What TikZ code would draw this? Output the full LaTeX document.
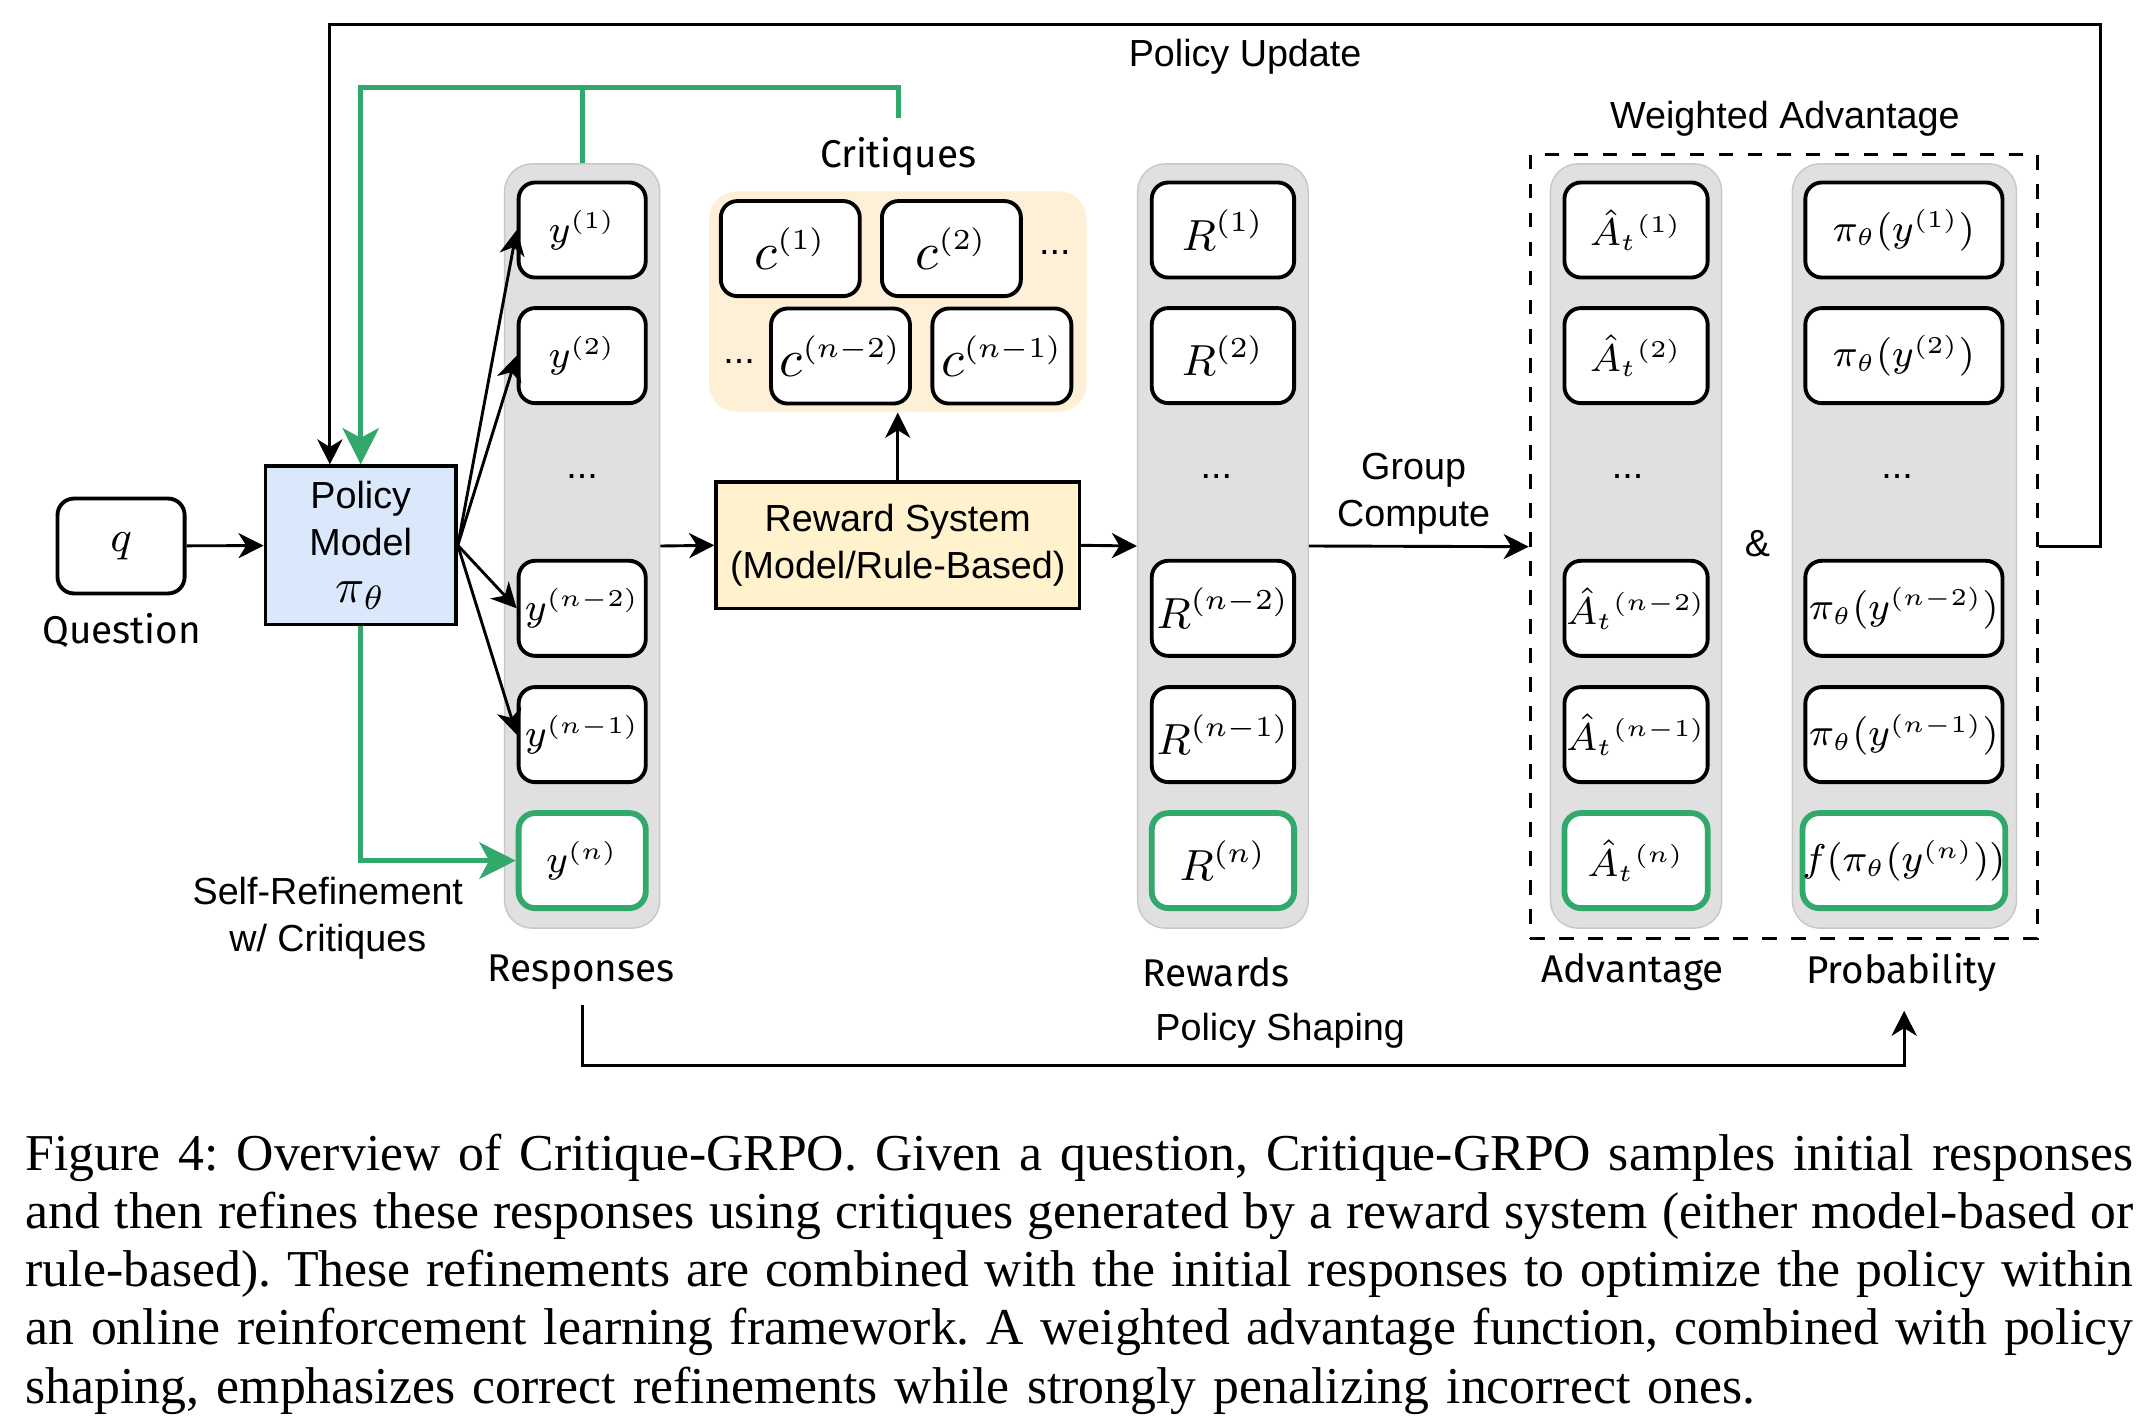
\documentclass[tikz,border=0pt]{standalone}
\usepackage{fontspec}
\setsansfont{Liberation Sans}
\newfontfamily\capfont{Liberation Serif}
\newfontfamily\handfont{Fira Sans}
\usepackage{tikz}
\usetikzlibrary{arrows.meta,positioning,calc}
\definecolor{refgreen}{HTML}{32A86C}
\definecolor{pmblue}{HTML}{DAE8FC}
\definecolor{rsyellow}{HTML}{FFF2CC}
\definecolor{critpanel}{HTML}{FDF0D6}
\definecolor{colgray}{HTML}{E0E0E0}
\definecolor{colline}{HTML}{C8C8C8}
\DeclareMathSizes{9}{9}{5.6}{4.5}
\DeclareMathSizes{8.2}{8.2}{5.2}{4.2}
\DeclareMathSizes{7.8}{7.8}{5}{4}
\DeclareMathSizes{10.5}{10.5}{6.5}{5.2}
\newcommand{\capline}[1]{\hbox to 153.2mm{\spaceskip=0.25em plus 1em minus 0.1em\relax #1}}

\begin{document}
\begin{tikzpicture}[x=0.1mm,y=-0.1mm,>={Stealth[length=5.2pt,width=5.2pt,inset=1.6pt]},
  txt/.style={font=\sffamily\fontsize{7.8}{9.7}\selectfont,align=center,inner sep=0pt},
  hand/.style={font=\handfont\fontsize{8}{10}\selectfont,inner sep=0pt},
  conn/.style={line width=0.6pt},
  gline/.style={draw=refgreen,line width=1.1pt},
  garrow/.style={gline,-{Stealth[length=7.5pt,width=7.5pt,inset=2pt]}},
  col/.style={fill=colgray,draw=colline,line width=0.3pt,rounded corners=2mm,minimum height=55.56mm,inner sep=0pt},
  cell/.style={draw,line width=0.8pt,rounded corners=1.2mm,fill=white,minimum height=6.91mm,inner sep=0pt,font=\fontsize{9}{11}\selectfont},
  gcell/.style={cell,draw=refgreen,line width=1.2pt},
  ycell/.style={minimum width=9.24mm,font=\fontsize{8.2}{10}\selectfont},
  rcell/.style={minimum width=10.35mm},
  acell/.style={minimum width=10.41mm,font=\fontsize{8.2}{10}\selectfont},
  pcell/.style={minimum width=14.33mm,font=\fontsize{7.8}{10}\selectfont},
  ccell/.style={cell,minimum width=10.1mm,font=\fontsize{10.5}{12}\selectfont},
  dots/.style={font=\sffamily\fontsize{7.8}{9}\selectfont,inner sep=0pt}]
\useasboundingbox (0,0) rectangle (1560,1035);

\node[cell,minimum width=9.24mm,minimum height=6.9mm] (q) at (88,396.9) {$q$};
\node[hand] (qlbl) at (88.5,458) {Question};
\node[txt,draw,line width=0.7pt,fill=pmblue,minimum width=13.87mm,minimum height=11.51mm] (pm) at (262.2,396.4) {Policy\\Model\\{\fontsize{10}{10}\selectfont$\pi_\theta$}};

\node[col,minimum width=11.28mm] (rcol) at (423.2,396.9) {};
\node[col,minimum width=12.4mm] (wcol) at (889,396.9) {};
\node[col,minimum width=12.45mm] (acol) at (1189.3,396.9) {};
\node[col,minimum width=16.29mm] (pcol) at (1384.4,396.9) {};

\node[cell,ycell] (y1) at (423.2,167.2) {$y^{(1)}$};
\node[cell,ycell] (y2) at (423.2,258.5) {$y^{(2)}$};
\node[dots] (ydots) at (423.2,346) {...};
\node[cell,ycell] (yn2) at (423.2,442.2) {$y^{(n-2)}$};
\node[cell,ycell] (yn1) at (423.2,534) {$y^{(n-1)}$};
\node[gcell,ycell] (yn) at (423.2,625.6) {$y^{(n)}$};
\node[hand] (resplbl) at (422.4,707) {Responses};

\node[cell,rcell] (r1) at (889,167.2) {$R^{(1)}$};
\node[cell,rcell] (r2) at (889,258.5) {$R^{(2)}$};
\node[dots] (rdots) at (884.2,346) {...};
\node[cell,rcell] (rn2) at (889,442.2) {$R^{(n-2)}$};
\node[cell,rcell] (rn1) at (889,534) {$R^{(n-1)}$};
\node[gcell,rcell] (rn) at (889,625.6) {$R^{(n)}$};
\node[hand] (rewlbl) at (884.2,707) {Rewards};

\node[cell,acell] (a1) at (1189.3,167.2) {$\hat{A}_t{}^{(1)}$};
\node[cell,acell] (a2) at (1189.3,258.5) {$\hat{A}_t{}^{(2)}$};
\node[dots] (adots) at (1183.2,346) {...};
\node[cell,acell] (an2) at (1189.3,442.2) {$\hat{A}_t{}^{(n-2)}$};
\node[cell,acell] (an1) at (1189.3,534) {$\hat{A}_t{}^{(n-1)}$};
\node[gcell,acell] (an) at (1189.3,625.6) {$\hat{A}_t{}^{(n)}$};
\node[hand] (advlbl) at (1186.8,707) {Advantage};

\node[cell,pcell] (p1) at (1384,167.2) {$\pi_\theta(y^{(1)})$};
\node[cell,pcell] (p2) at (1384,258.5) {$\pi_\theta(y^{(2)})$};
\node[dots] (pdots) at (1379.1,346) {...};
\node[cell,pcell] (pn2) at (1384,442.2) {$\pi_\theta(y^{(n-2)})$};
\node[cell,pcell] (pn1) at (1384,534) {$\pi_\theta(y^{(n-1)})$};
\node[gcell,pcell] (pn) at (1384,625.6) {$f(\pi_\theta(y^{(n)}))$};
\node[hand] (problbl) at (1382.2,707) {Probability};

\node[txt] (amp) at (1277.6,395.4) {\&};
\node[draw,dashed,line width=0.6pt,minimum width=36.89mm,minimum height=56.96mm,inner sep=0pt] (wbox) at (1296.8,397.4) {};
\node[txt] (wlbl) at (1297.5,86.1) {Weighted Advantage};

\node[fill=critpanel,rounded corners=2mm,minimum width=27.45mm,minimum height=16.02mm,inner sep=0pt] (cpanel) at (652.6,219.2) {};
\node[hand] (critlbl) at (653,114.1) {Critiques};
\node[ccell] (c1) at (574.5,180.7) {$c^{(1)}$};
\node[ccell] (c2) at (691.6,180.7) {$c^{(2)}$};
\node[dots] (cdots1) at (766.8,183.5) {...};
\node[dots] (cdots2) at (537.2,262.5) {...};
\node[ccell] (cn2) at (611,258.8) {$c^{(n-2)}$};
\node[ccell] (cn1) at (728.3,258.8) {$c^{(n-1)}$};

\node[txt,draw,line width=0.7pt,fill=rsyellow,minimum width=26.43mm,minimum height=9.21mm] (rs) at (652.6,396.4) {Reward System\\(Model/Rule-Based)};

\node[txt] (gclbl) at (1027.6,358.6) {Group\\Compute};
\node[txt] (pulbl) at (905.1,41) {Policy Update};
\node[txt] (pslbl) at (930.6,749.2) {Policy Shaping};
\node[txt] (srlbl) at (238.3,667.7) {Self-Refinement\\w/ Critiques};

\draw[conn,->] (q) -- (pm);
\draw[conn,->] (pm.east) -- (y1.west);
\draw[conn,->] (pm.east) -- (y2.west);
\draw[conn,->] (pm.east) -- (yn2.west);
\draw[conn,->] (pm.east) -- (yn1.west);
\draw[conn,->] (rcol.east) -- (rs.west);
\draw[conn,->] (rs.north) -- (cpanel.south);
\draw[conn,->] (rs.east) -- (wcol.west);
\draw[conn,->] (wcol.east) -- (wbox.west);

\coordinate (pucorner) at (1527.1,17.5);
\draw[conn,->] (wbox.east) -| (pucorner) -| ([xshift=-2.24mm]pm.north);

\coordinate (gsplit) at (423.2,63.6);
\coordinate (gend) at (653,86.1);
\draw[garrow] (rcol.north) -- (gsplit) -| (pm.north);
\draw[gline] (gsplit) -| (gend);
\draw[garrow] (pm.south) |- (yn.west);

\coordinate (psstart) at (423.2,730.7);
\coordinate (psend) at (1384.2,734.7);
\draw[conn,->] (psstart) -- ++(0,44.1) -| (psend);

\node[anchor=north west,inner sep=0pt,text width=153.2mm,align=left,font=\capfont\fontsize{10.7}{12}\selectfont\frenchspacing] (cap) at (18,824) {%
\capline{Figure 4: Overview of Critique-GRPO. Given a question, Critique-GRPO samples initial responses}
\capline{and then refines these responses using critiques generated by a reward system (either model-based or}
\capline{rule-based). These refinements are combined with the initial responses to optimize the policy within}
\capline{an online reinforcement learning framework. A weighted advantage function, combined with policy}
shaping, emphasizes correct refinements while strongly penalizing incorrect ones.};
\end{tikzpicture}
\end{document}
